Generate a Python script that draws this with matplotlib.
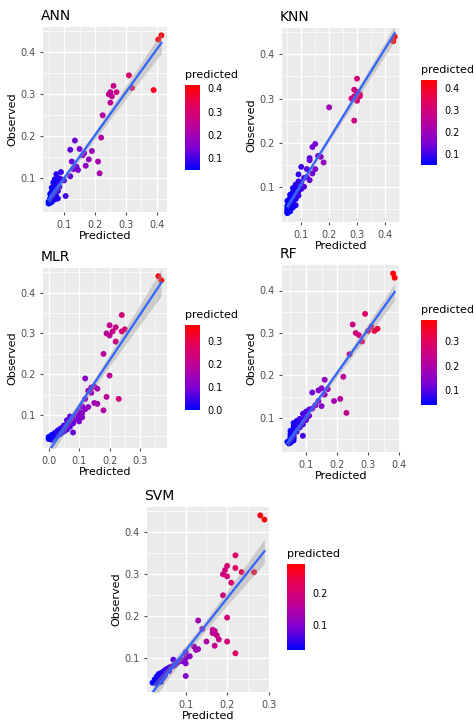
import numpy as np
import matplotlib
matplotlib.use("Agg")
import matplotlib.pyplot as plt
from matplotlib.colors import LinearSegmentedColormap, Normalize
from matplotlib.ticker import MultipleLocator

observed = [0.44,0.43,0.345,0.32,0.315,0.31,0.305,0.305,0.30,0.295,0.28,0.25,0.197,0.19,0.17,0.168,0.165,0.16,0.155,0.145,0.14,0.14,0.13,0.128,0.122,0.12,0.115,0.112,0.11,0.105,0.1,0.098,0.097,0.095,0.093,0.09,0.088,0.085,0.082,0.08,0.078,0.075,0.072,0.07,0.068,0.065,0.063,0.06,0.058,0.057,0.055,0.053,0.052,0.05,0.048,0.047,0.045,0.044,0.042,0.04]
pred_ann = [0.415,0.405,0.31,0.26,0.32,0.39,0.27,0.25,0.245,0.255,0.25,0.225,0.22,0.135,0.15,0.12,0.19,0.165,0.16,0.18,0.21,0.125,0.17,0.14,0.13,0.145,0.09,0.215,0.075,0.12,0.085,0.07,0.095,0.1,0.08,0.065,0.075,0.08,0.07,0.085,0.06,0.075,0.065,0.08,0.06,0.07,0.055,0.065,0.105,0.075,0.06,0.055,0.08,0.07,0.06,0.055,0.05,0.06,0.055,0.05]
pred_knn = [0.435,0.43,0.30,0.29,0.30,0.31,0.29,0.31,0.28,0.30,0.20,0.29,0.15,0.14,0.16,0.17,0.13,0.13,0.18,0.10,0.12,0.15,0.14,0.09,0.12,0.11,0.13,0.09,0.10,0.08,0.11,0.09,0.07,0.10,0.08,0.09,0.07,0.08,0.06,0.09,0.07,0.06,0.08,0.07,0.05,0.06,0.07,0.06,0.08,0.05,0.06,0.07,0.05,0.06,0.05,0.06,0.05,0.06,0.05,0.05]
pred_mlr = [0.36,0.37,0.24,0.2,0.22,0.25,0.21,0.24,0.19,0.2,0.22,0.18,0.2,0.12,0.15,0.14,0.16,0.13,0.14,0.19,0.23,0.12,0.15,0.16,0.11,0.13,0.12,0.18,0.1,0.11,0.09,0.1,0.07,0.11,0.08,0.09,0.06,0.1,0.07,0.08,0.06,0.05,0.07,0.05,0.04,0.06,0.03,0.05,0.08,0.02,0.04,0.03,0.01,0.03,0.02,0.0,0.01,0.005,0.0,0.01]
pred_rf = [0.38,0.385,0.29,0.25,0.31,0.33,0.30,0.32,0.26,0.27,0.28,0.24,0.22,0.16,0.15,0.17,0.14,0.12,0.16,0.21,0.19,0.14,0.13,0.15,0.12,0.11,0.1,0.23,0.09,0.11,0.1,0.08,0.09,0.1,0.07,0.08,0.06,0.09,0.07,0.06,0.08,0.07,0.06,0.05,0.07,0.06,0.05,0.06,0.09,0.05,0.06,0.05,0.06,0.05,0.05,0.06,0.05,0.04,0.05,0.045]
pred_svm = [0.28,0.29,0.22,0.2,0.22,0.195,0.235,0.265,0.19,0.2,0.21,0.19,0.2,0.13,0.14,0.165,0.17,0.165,0.175,0.18,0.2,0.15,0.17,0.12,0.13,0.125,0.1,0.22,0.1,0.11,0.1,0.09,0.07,0.085,0.09,0.08,0.1,0.075,0.07,0.065,0.06,0.055,0.05,0.06,0.045,0.04,0.035,0.05,0.1,0.03,0.04,0.045,0.03,0.025,0.035,0.03,0.025,0.04,0.02,0.03]

models = ["ANN", "KNN", "MLR", "RF", "SVM"]
preds = [pred_ann, pred_knn, pred_mlr, pred_rf, pred_svm]

W, H = 474, 724
fig = plt.figure(figsize=(W/100, H/100), dpi=100)
cmap = LinearSegmentedColormap.from_list("bp", ["#0000FF", "#7A00D6", "#B8009E", "#E20060", "#FF0000"])

layout = [
    ((43, 167, 27, 212), (185, 200, 85, 170)),
    ((282, 400, 28, 222), (421, 437, 80, 165)),
    ((43, 167, 268, 448), (185, 200, 325, 410)),
    ((282, 400, 265, 452), (421, 437, 320, 405)),
    ((147, 270, 507, 692), (287, 305, 564, 650)),
]

def pxrect(x0, x1, y0, y1):
    return [x0/W, 1 - y1/H, (x1-x0)/W, (y1-y0)/H]

for name, p, (ar, cr) in zip(models, preds, layout):
    x = np.array(p); y = np.array(observed)
    ax = fig.add_axes(pxrect(*ar))
    ax.set_facecolor("#EBEBEB")
    for s in ax.spines.values():
        s.set_visible(False)
    ax.xaxis.set_major_locator(MultipleLocator(0.1))
    ax.yaxis.set_major_locator(MultipleLocator(0.1))
    ax.xaxis.set_minor_locator(MultipleLocator(0.05))
    ax.yaxis.set_minor_locator(MultipleLocator(0.05))
    ax.grid(True, which="major", color="white", lw=1.0)
    ax.grid(True, which="minor", color="white", lw=0.5)
    ax.set_axisbelow(True)
    norm = Normalize(x.min(), x.max())
    ax.scatter(x, y, c=x, cmap=cmap, norm=norm, s=18, lw=0, zorder=3)
    n = len(x)
    b, a = np.polyfit(x, y, 1)
    xs = np.linspace(x.min(), x.max(), 100)
    yhat = a + b*xs
    resid = y - (a + b*x)
    s = np.sqrt(np.sum(resid**2)/(n-2))
    se = s*np.sqrt(1/n + (xs-x.mean())**2/np.sum((x-x.mean())**2))
    ax.fill_between(xs, yhat-2.0*se, yhat+2.0*se, color="#999999", alpha=0.4, lw=0, zorder=4)
    ax.plot(xs, yhat, color="#3366FF", lw=1.6, zorder=5)
    xr = x.max()-x.min(); yr = y.max()-y.min()
    ax.set_xlim(x.min()-0.05*xr, x.max()+0.05*xr)
    ax.set_ylim(y.min()-0.05*yr, y.max()+0.05*yr)
    ax.tick_params(labelsize=7, colors="#4D4D4D", length=2, which="major")
    ax.tick_params(which="minor", length=0)
    ax.set_xlabel("Predicted", fontsize=8, labelpad=1)
    ax.set_ylabel("Observed", fontsize=8, labelpad=2)
    ax.set_title(name, fontsize=10, loc="left", x=-0.02, pad=5)
    cax = fig.add_axes(pxrect(*cr))
    sm = plt.cm.ScalarMappable(norm=norm, cmap=cmap)
    cb = fig.colorbar(sm, cax=cax)
    cb.outline.set_visible(False)
    cb.locator = MultipleLocator(0.1)
    cb.update_ticks()
    cax.tick_params(labelsize=7, length=2, color="white", colors="#000000")
    cax.tick_params(axis="y", color="white")
    cax.set_title("predicted", fontsize=8, loc="left", pad=5)

fig.savefig("out.png", dpi=100)
